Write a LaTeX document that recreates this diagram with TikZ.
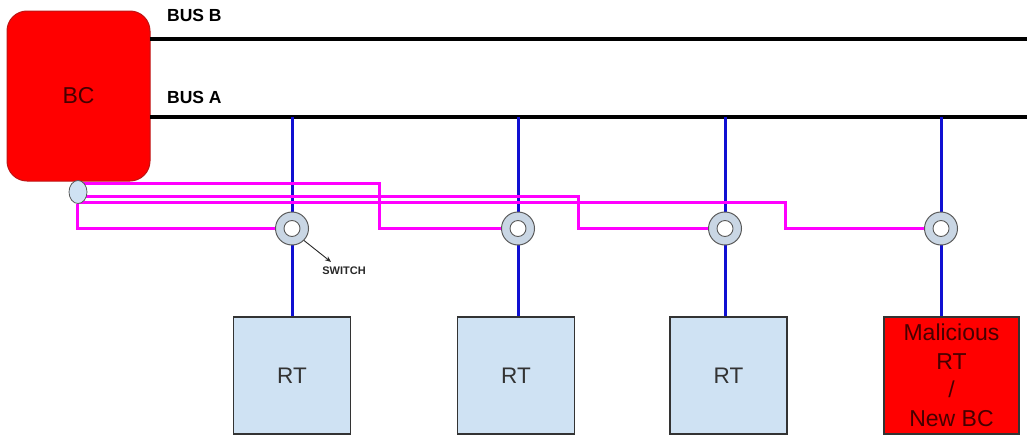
\documentclass[tikz,border=0pt]{standalone}
\usepackage{fontspec}
\setmainfont{Liberation Sans}
\usetikzlibrary{arrows.meta,shapes.geometric}
\definecolor{bcred}{RGB}{255,0,0}
\definecolor{bcborder}{RGB}{190,20,20}
\definecolor{rtfill}{RGB}{207,226,243}
\definecolor{rtborder}{RGB}{51,51,51}
\definecolor{swfill}{RGB}{201,214,228}
\definecolor{swborder}{RGB}{90,90,90}
\definecolor{mag}{RGB}{255,0,255}
\definecolor{bluel}{RGB}{16,16,210}
\definecolor{darktext}{RGB}{70,0,0}
\begin{document}
\begin{tikzpicture}[x=1pt,y=-1pt,
  bcbox/.style={draw=bcborder, fill=bcred, line width=1pt, rounded corners=20pt,
    minimum width=143pt, minimum height=170pt, inner sep=0pt,
    font=\fontsize{23}{27}\selectfont, text=darktext},
  rtbox/.style={draw=rtborder, fill=rtfill, line width=1.3pt,
    minimum width=117pt, minimum height=117pt, inner sep=0pt,
    font=\fontsize{22.5}{27}\selectfont, text=rtborder},
  malbox/.style={draw=rtborder, fill=bcred, line width=1.3pt,
    minimum width=135pt, minimum height=117pt, inner sep=0pt,
    font=\fontsize{23}{28.5}\selectfont, text=darktext, align=center},
  switchring/.style={circle, draw=swborder, fill=swfill, line width=1pt,
    minimum size=33pt, inner sep=0pt,
    path picture={\filldraw[fill=white, draw=swborder, line width=0.9pt]
      (path picture bounding box.center) circle (8pt);}},
  tap/.style={ellipse, draw=swborder, fill=rtfill, line width=0.8pt,
    minimum width=18pt, minimum height=23pt, inner sep=0pt},
  buslabel/.style={anchor=base west, inner sep=0pt,
    font=\fontsize{17.5}{20}\selectfont\bfseries},
  bus/.style={line width=3.2pt, black},
  stub/.style={line width=3pt, bluel},
  wire/.style={line width=3pt, mag},
  swlbl/.style={inner sep=0pt, font=\fontsize{11}{13}\selectfont\bfseries,
    text={rgb,255:red,40;green,40;blue,40}},
  pointer/.style={-{Stealth[length=6pt,width=5pt]}, line width=0.9pt,
    draw={rgb,255:red,40;green,40;blue,40}}
]
\useasboundingbox (0,0) rectangle (1027,439);

% bus controller
\node[bcbox] (bc) at (78.5,96) {BC};

% bus end points
\coordinate (busBstart) at (150,39);
\coordinate (busBend) at (1027,39);
\coordinate (busAstart) at (150,117);
\coordinate (busAend) at (1027,117);
\draw[bus] (busBstart) -- (busBend);
\draw[bus] (busAstart) -- (busAend);
\node[buslabel] (lblB) at (167,21) {BUS B};
\node[buslabel] (lblA) at (167,103) {BUS A};

% remote terminals
\node[rtbox] (rt1) at (292,375.5) {RT};
\node[rtbox] (rt2) at (516,375.5) {RT};
\node[rtbox] (rt3) at (728.5,375.5) {RT};
\node[malbox] (mal) at (951.5,375.5) {Malicious\\RT\\/\\New BC};

% switch positions (coordinates for stubs)
\coordinate (s1) at (292,228.5);
\coordinate (s2) at (518,228.5);
\coordinate (s3) at (725,228.5);
\coordinate (s4) at (941,228.5);

% blue stubs from bus A to terminals
\draw[stub] (s1 |- busAstart) -- (s1 |- rt1.north);
\draw[stub] (s2 |- busAstart) -- (s2 |- rt2.north);
\draw[stub] (s3 |- busAstart) -- (s3 |- rt3.north);
\draw[stub] (s4 |- busAstart) -- (s4 |- mal.north);

% switches
\node[switchring] (sw1) at (s1) {};
\node[switchring] (sw2) at (s2) {};
\node[switchring] (sw3) at (s3) {};
\node[switchring] (sw4) at (s4) {};

% tap under BC
\coordinate (tapc) at (78,192);
\draw[wire] ([yshift=9pt]tapc) -- ++(301,0) |- (sw2.west);
\draw[wire] ([yshift=-4pt]tapc) -- ++(500,0) |- (sw3.west);
\draw[wire] ([yshift=-10pt]tapc) -- ++(707,0) |- (sw4.west);
\node[tap] (tap) at (tapc) {};
\draw[wire] ([xshift=-1pt]tap.south) |- (sw1.west);

% switch label
\node[swlbl] (swl) at (344,271) {SWITCH};
\draw[pointer] (sw1.-45) -- ([xshift=-13pt,yshift=5pt]swl.north);
\end{tikzpicture}
\end{document}
